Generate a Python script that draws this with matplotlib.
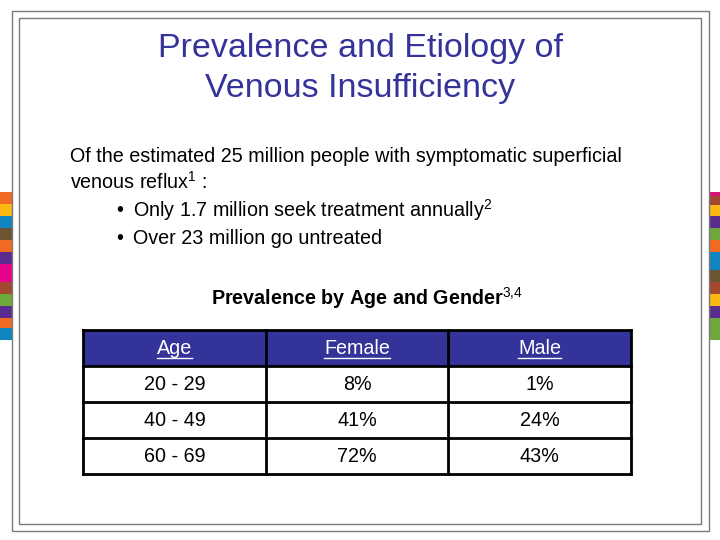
import matplotlib
matplotlib.use("Agg")
import matplotlib.pyplot as plt
from matplotlib.patches import Rectangle

plt.rcParams['font.family'] = ['Liberation Sans', 'DejaVu Sans']
plt.rcParams['mathtext.fontset'] = 'custom'
plt.rcParams['mathtext.rm'] = 'Liberation Sans'
plt.rcParams['mathtext.it'] = 'Liberation Sans'
plt.rcParams['mathtext.bf'] = 'Liberation Sans:bold'

# table data
headers = ["Age", "Female", "Male"]
ages = ["20 - 29", "40 - 49", "60 - 69"]
female = ["8%", "41%", "72%"]
male = ["1%", "24%", "43%"]

title_lines = ["Prevalence and Etiology of", "Venous Insufficiency"]
intro = ["Of the estimated 25 million people with symptomatic superficial",
         r"venous reflux$^{1}$ :"]
bullets = [r"Only 1.7 million seek treatment annually$^{2}$",
           "Over 23 million go untreated"]
table_title = r"Prevalence by Age and Gender$^{3{,}4}$"

# decorative colour strips at the slide edges
left_strip = ["#f26a21", "#fdb913", "#0f86c0", "#6b5432", "#f26a21", "#5b2c8f",
              "#e6008a", "#a3472f", "#6fa83a", "#5b2c8f", "#f26a21", "#0f86c0"]
left_h = [12, 12, 12, 12, 12, 12, 18, 12, 12, 12, 10, 12]
right_strip = ["#d8127a", "#a3472f", "#fdb913", "#5b2c8f", "#6fa83a", "#f26a21",
               "#0f86c0", "#6b5432", "#a3472f", "#fdb913", "#5b2c8f", "#6fa83a"]
right_h = [4, 9, 11, 12, 12, 12, 18, 12, 12, 12, 12, 22]

navy = "#333399"
fs = 14.2

fig = plt.figure(figsize=(7.2, 5.4), dpi=100)
ax = fig.add_axes([0, 0, 1, 1])
ax.set_xlim(0, 720)
ax.set_ylim(540, 0)
ax.axis("off")

y = 192
for c, h in zip(left_strip, left_h):
    ax.add_patch(Rectangle((0, y), 12, h, color=c, lw=0))
    y += h
y = 192
for c, h in zip(right_strip, right_h):
    ax.add_patch(Rectangle((709, y), 11, h, color=c, lw=0))
    y += h

# slide frames
ax.add_patch(Rectangle((12, 11), 697, 520, fill=False, ec="#7a7a7a", lw=1))
ax.add_patch(Rectangle((19, 18), 682, 506, fill=False, ec="#7a7a7a", lw=1))

for i, t in enumerate(title_lines):
    ax.text(360, 49 + 39 * i, t, color=navy, fontsize=24.5, ha="center", va="center")

ax.text(70, 157, intro[0], fontsize=fs, va="center")
ax.text(70, 182, intro[1], fontsize=fs, va="center")
for i, b in enumerate(bullets):
    ax.text(116, 210 + 29 * i, "•", fontsize=fs, va="center")
    ax.text(133, 210 + 29 * i, b, fontsize=fs, va="center")

ax.text(211, 298, table_title, fontsize=fs, fontweight="bold", va="center")

# table
col_x = [83, 266, 448, 631]
row_y = [330, 366, 402, 438, 474]
ax.add_patch(Rectangle((col_x[0], row_y[0]), col_x[-1] - col_x[0], row_y[1] - row_y[0],
                       color=navy, lw=0))
for yy in row_y:
    ax.plot([col_x[0], col_x[-1]], [yy, yy], color="black", lw=2)
for xx in col_x:
    ax.plot([xx, xx], [row_y[0], row_y[-1]], color="black", lw=2)

fig.canvas.draw()
renderer = fig.canvas.get_renderer()
inv = ax.transData.inverted()
for j, h in enumerate(headers):
    cx = (col_x[j] + col_x[j + 1]) / 2
    cy = (row_y[0] + row_y[1]) / 2
    t = ax.text(cx, cy, h, color="white", fontsize=fs, ha="center", va="center")
    bb = t.get_window_extent(renderer)
    (x0, _), (x1, _) = inv.transform([(bb.x0, bb.y0), (bb.x1, bb.y0)])
    ax.plot([x0, x1], [cy + 10, cy + 10], color="white", lw=1)

cols = [ages, female, male]
for i in range(len(ages)):
    cy = (row_y[i + 1] + row_y[i + 2]) / 2
    for j, col in enumerate(cols):
        cx = (col_x[j] + col_x[j + 1]) / 2
        ax.text(cx, cy, col[i], fontsize=fs, ha="center", va="center")

fig.savefig("out.png", dpi=100)
